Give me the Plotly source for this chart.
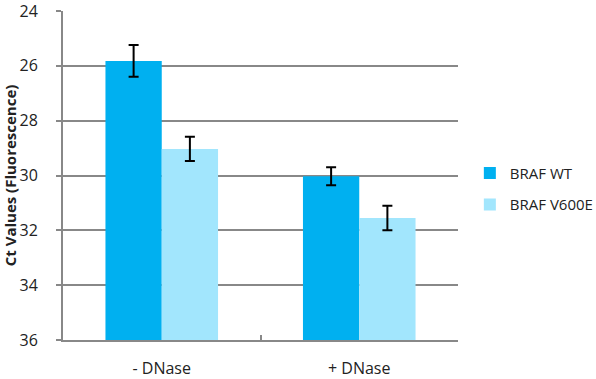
import plotly.graph_objects as go

categories = ["- DNase", "+ DNase"]
series_names = ["BRAF WT", "BRAF V600E"]
wt_values = [25.82, 30.03]
wt_errors = [0.58, 0.33]
v600e_values = [29.03, 31.55]
v600e_errors = [0.44, 0.45]
y_ticks = [24, 26, 28, 30, 32, 34, 36]
axis_bottom = 36
colors = ["#00B0F0", "#A2E6FD"]

fig = go.Figure()
for name, vals, errs, col in [
    (series_names[0], wt_values, wt_errors, colors[0]),
    (series_names[1], v600e_values, v600e_errors, colors[1]),
]:
    fig.add_trace(go.Bar(
        x=categories,
        y=[v - axis_bottom for v in vals],
        base=axis_bottom,
        name=name,
        legendgroup=name,
        marker=dict(color=col, line=dict(width=0)),
        error_y=dict(type="data", array=errs, visible=True,
                     color="black", thickness=2, width=5),
    ))

font_family = "Open Sans, Noto Sans, sans-serif"
fig.update_layout(
    width=596, height=379,
    margin=dict(l=63, r=138, t=11, b=39, autoexpand=False),
    paper_bgcolor="white", plot_bgcolor="white",
    barmode="group", bargap=0.43, bargroupgap=0,
    font=dict(family=font_family, size=13, color="#222"),
    showlegend=True,
    legend=dict(x=1.03, y=0.46, xanchor="left", yanchor="middle",
                font=dict(size=15, color="#222"),
                tracegroupgap=9, traceorder="grouped",
                itemwidth=30),
    yaxis=dict(range=[36, 24], tickvals=y_ticks,
               automargin=False, ticklabeloverflow="allow",
               showgrid=True, gridcolor="#888888", gridwidth=2,
               showline=True, linecolor="#888888", linewidth=2,
               ticks="outside", ticklen=5, tickcolor="#888888", tickwidth=2,
               ticklabelstandoff=15,
               tickfont=dict(size=16, color="#222"),
               zeroline=False,
               title=dict(text="<b>Ct Values (Fluorescence)</b>",
                          font=dict(size=15, color="#222"), standoff=6)),
    xaxis=dict(automargin=False, ticklabeloverflow="allow",
               showline=True, linecolor="#888888", linewidth=2,
               ticks="inside", tickson="boundaries", ticklen=5,
               tickcolor="#888888", tickwidth=2,
               ticklabelstandoff=13,
               tickfont=dict(size=16, color="#222"),
               showgrid=False, zeroline=False),
)

fig.write_html(
    "out.html",
    config={"displayModeBar": False},
    post_script="document.body.style.margin='0';document.body.style.overflow='hidden';",
)
